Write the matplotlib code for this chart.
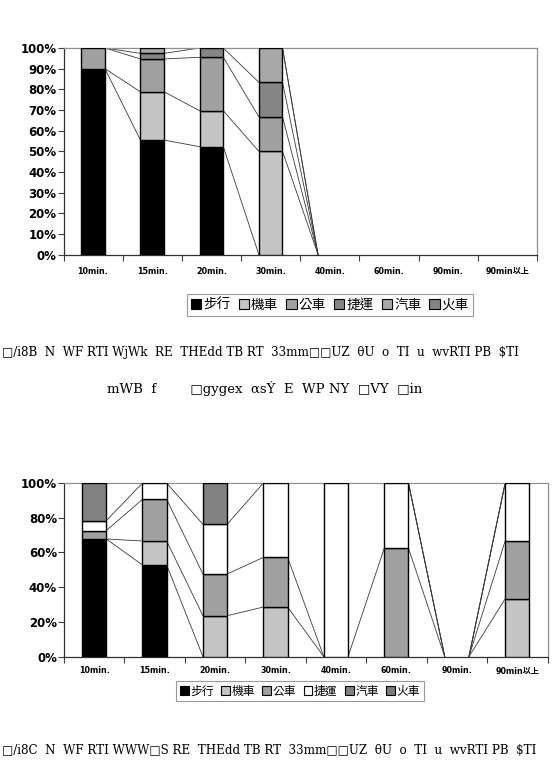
import matplotlib
matplotlib.use("Agg")
import matplotlib.pyplot as plt
from matplotlib.patches import Patch

plt.rcParams['font.family'] = ['DejaVu Sans', 'Noto Sans CJK TC']

# categories and modes
cats = ['10min.', '15min.', '20min.', '30min.', '40min.', '60min.', '90min.', '90min以上']
modes = ['步行', '機車', '公車', '捷運', '汽車', '火車']

# chart 1 shares (%)
walk1 = [90.0, 55.4, 52.2, 0, 0, 0, 0, 0]
moto1 = [0, 23.4, 17.4, 50.0, 0, 0, 0, 0]
bus1 = [10.0, 15.9, 25.9, 16.7, 0, 0, 0, 0]
mrt1 = [0, 2.7, 4.5, 16.7, 0, 0, 0, 0]
car1 = [0, 2.6, 0, 16.6, 0, 0, 0, 0]
train1 = [0, 0, 0, 0, 0, 0, 0, 0]

# chart 2 shares (%)
walk2 = [67.8, 52.8, 0, 0, 0, 0, 0, 0]
moto2 = [0, 13.8, 23.6, 28.6, 0, 0, 0, 33.3]
bus2 = [4.8, 24.0, 24.0, 28.6, 0, 62.5, 0, 33.4]
mrt2 = [5.7, 9.4, 28.6, 42.8, 100.0, 37.5, 0, 33.3]
car2 = [21.7, 0, 23.8, 0, 0, 0, 0, 0]
train2 = [0, 0, 0, 0, 0, 0, 0, 0]

colors1 = ['#000000', '#c4c4c4', '#a0a0a0', '#858585', '#a8a8a8', '#858585']
colors2 = ['#000000', '#c4c4c4', '#a0a0a0', '#ffffff', '#828282', '#7c7c7c']

caption1a = "□/i8B  N  WF RTI WjWk  RE  THEdd TB RT  33mm□□UZ  θU  o  TI  u  wvRTI PB  $TI"
caption1b = "mWB  f        □gygex  αsÝ  E  WP NY  □VY  □in"
caption2 = "□/i8C  N  WF RTI WWW□S RE  THEdd TB RT  33mm□□UZ  θU  o  TI  u  wvRTI PB  $TI"

W = 0.4


def draw(ax, series, colors, ystep, legend_pos, legend_size):
    x = list(range(len(cats)))
    bottoms = [0.0] * len(cats)
    tops = []
    for vals, col in zip(series, colors):
        for i in x:
            if vals[i] > 0:
                ax.bar(i, vals[i], W, bottom=bottoms[i], color=col,
                       edgecolor='black', linewidth=1.0, zorder=3)
        bottoms = [b + v for b, v in zip(bottoms, vals)]
        tops.append(list(bottoms))
    # series lines between neighbouring bars
    for cum in tops:
        for i in range(len(cats) - 1):
            ax.plot([i + W / 2, i + 1 - W / 2], [cum[i], cum[i + 1]],
                    color='#3a3a3a', linewidth=0.6, zorder=2)

    ax.set_xlim(-0.5, len(cats) - 0.5)
    ax.set_ylim(0, 100)
    ax.set_yticks(range(0, 101, ystep))
    ax.set_yticklabels([f"{v}%" for v in range(0, 101, ystep)],
                       fontsize=8.5, fontweight='bold')
    ax.set_xticks(x)
    ax.set_xticklabels(cats, fontsize=5.8, fontweight='bold')
    ax.set_xticks([i + 0.5 for i in range(-1, len(cats))], minor=True)
    ax.tick_params(axis='x', which='major', length=0, pad=9)
    ax.tick_params(axis='x', which='minor', length=4, width=0.8, color='#404040')
    ax.tick_params(axis='y', length=4, width=0.8, color='#404040', pad=1)
    for s in ['top', 'right']:
        ax.spines[s].set_color('#909090')
        ax.spines[s].set_linewidth(0.9)
    for s in ['left', 'bottom']:
        ax.spines[s].set_color('#303030')
        ax.spines[s].set_linewidth(0.9)

    handles = [Patch(facecolor=c, edgecolor='black', linewidth=0.8) for c in colors]
    leg = ax.figure.legend(handles, modes, loc='center', bbox_to_anchor=legend_pos,
                           ncol=6, handlelength=0.75,
                           handleheight=0.75, handletextpad=0.15, columnspacing=0.6,
                           frameon=True, fancybox=False, borderpad=0.3,
                           prop={'family': ['Noto Sans CJK TC'], 'size': legend_size})
    leg.get_frame().set_edgecolor('#808080')
    leg.get_frame().set_linewidth(0.8)


fig = plt.figure(figsize=(5.56, 7.62), dpi=100)

ax1 = fig.add_axes([63.5 / 556, 1 - 254.5 / 762, 473.5 / 556, 206.5 / 762])
draw(ax1, [walk1, moto1, bus1, mrt1, car1, train1], colors1, 10,
     (330 / 556, 1 - 305 / 762), 9.8)

ax2 = fig.add_axes([63.9 / 556, 1 - 656.7 / 762, 483.6 / 556, 173.7 / 762])
draw(ax2, [walk2, moto2, bus2, mrt2, car2, train2], colors2, 20,
     (300 / 556, 1 - 691 / 762), 8.5)
ax2.tick_params(axis='x', which='major', pad=7)

fig.text(2 / 556, 1 - 353 / 762, caption1a, fontsize=8.6, family='DejaVu Serif', va='center')
fig.text(265 / 556, 1 - 388 / 762, caption1b, fontsize=9.5, family='DejaVu Serif',
         va='center', ha='center')
fig.text(2 / 556, 1 - 750 / 762, caption2, fontsize=8.6, family='DejaVu Serif', va='center')

fig.savefig('out.png', dpi=100)
